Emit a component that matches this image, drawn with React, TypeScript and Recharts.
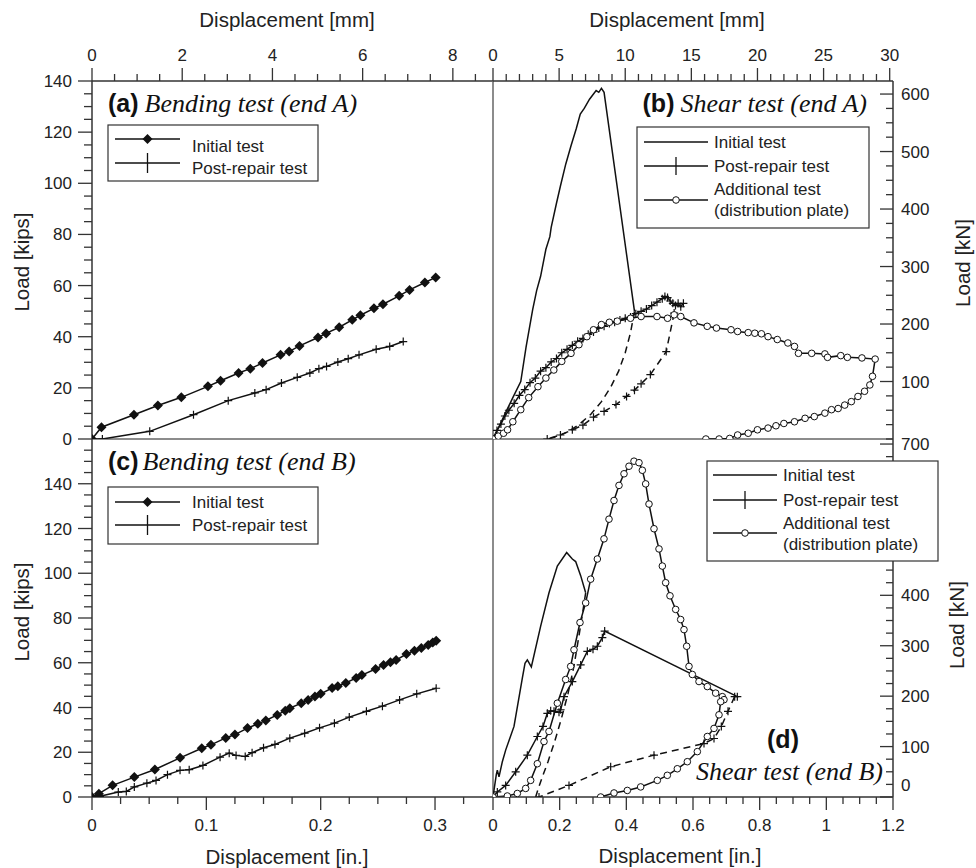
import React from 'react';
import { LineChart, Line, XAxis, YAxis, ReferenceLine } from 'recharts';

const W = 976;
const H = 868;
const SANS = '"Liberation Sans", Arial, Helvetica, sans-serif';
const SERIF = '"Liberation Serif", "Times New Roman", Times, serif';
const INK = '#111';
const AXIS = '#333';
const DIV = '#666';

// ---------- Panel (a): bending test, end A (displacement mm, load kips)
const aInitialMm = [0, 0.21, 0.93, 1.46, 1.98, 2.57, 2.85, 3.25, 3.51, 3.78, 4.18, 4.37, 4.6, 5.01, 5.19, 5.48, 5.77, 5.95, 6.25, 6.45, 6.81, 7.04, 7.38, 7.62];
const aInitialKips = [0, 4.6, 9.5, 13.1, 16.3, 20.6, 22.8, 25.8, 27.5, 29.7, 32.9, 34.2, 36.4, 39.7, 41.3, 43.7, 46.6, 48.4, 51.1, 52.7, 56.0, 58.3, 61.2, 63.2];
const aPostMm = [0, 0.23, 1.28, 2.25, 3.02, 3.61, 3.86, 4.2, 4.55, 4.83, 5.03, 5.2, 5.45, 5.68, 5.92, 6.3, 6.6, 6.9];
const aPostKips = [0, 0, 3.0, 9.5, 15.0, 18.0, 19.3, 21.9, 24.1, 25.8, 27.5, 28.4, 30.1, 31.4, 32.9, 35.1, 36.2, 38.1];

// ---------- Panel (b): shear test, end A (displacement mm, load kN)
const bInitialMm = [0, 0.5, 1.0, 1.5, 2.1, 2.5, 3.0, 3.3, 3.6, 4.0, 4.3, 4.4, 4.8, 5.1, 5.5, 5.9, 6.3, 6.6, 6.9, 7.3, 7.6, 7.8, 8.0, 8.2, 8.4, 10.7];
const bInitialKn = [0, 24, 48, 72, 100, 160, 225, 258, 283, 330, 352, 368, 410, 440, 478, 510, 540, 565, 575, 591, 600, 606, 603, 610, 603, 222];
const bInitialUnloadMm = [10.7, 10.4, 10.0, 9.5, 8.9, 8.2, 7.4, 6.5, 5.6, 4.8, 4.1];
const bInitialUnloadKn = [222, 185, 150, 118, 90, 65, 43, 25, 12, 4, 0];
const bPostMm = [0, 0.3, 0.6, 0.9, 1.2, 1.6, 2.0, 2.4, 2.8, 3.2, 3.6, 4.0, 4.4, 4.8, 5.2, 5.6, 6.0, 6.4, 6.8, 7.2, 7.6, 8.0, 8.4, 8.8, 9.2, 9.6, 10.0, 10.4, 10.8, 11.2, 11.6, 12.0, 12.4, 12.8, 13.0, 13.2, 13.4, 13.6, 13.8, 14.0, 14.2, 14.4];
const bPostKn = [0, 15, 26, 40, 50, 62, 76, 86, 98, 106, 118, 124, 134, 140, 150, 156, 163, 170, 175, 182, 186, 193, 196, 201, 203, 207, 210, 212, 218, 222, 226, 232, 238, 244, 248, 246, 240, 236, 232, 236, 230, 236];
const bPostUnloadMm = [13.7, 13.1, 11.9, 11.2, 10.7, 10.1, 9.3, 8.4, 7.6, 6.8, 6.0, 5.1, 4.1];
const bPostUnloadKn = [219, 152, 112, 96, 85, 74, 60, 48, 38, 24, 16, 7, 0];
const bAddMm = [0, 0.4, 0.8, 1.1, 1.5, 2.1, 2.7, 3.4, 4.0, 4.6, 5.2, 5.9, 6.5, 7.1, 7.6, 8.2, 8.8, 9.4, 10.4, 11.2, 12.4, 13.2, 13.7, 14.2, 15.2, 16.2, 16.9, 18.0, 18.5, 19.3, 19.8, 20.3, 20.8, 21.5, 22.3, 22.8, 23.1, 24.1, 25.1, 25.3, 26.3, 26.8, 27.9, 28.9, 28.7, 28.5, 28.1, 27.6, 27.1, 26.6, 26.1, 25.6, 25.1, 24.3, 23.6, 22.8, 22.0, 21.4, 20.8, 20.0, 19.3, 18.5, 17.9, 17.1, 16.1];
const bAddKn = [0, 5, 10, 16, 30, 51, 72, 91, 106, 120, 135, 149, 164, 178, 190, 199, 203, 205, 210, 213, 213, 210, 216, 213, 202, 196, 193, 190, 187, 185, 184, 183, 178, 173, 167, 161, 149, 149, 148, 142, 145, 142, 141, 139, 109, 94, 83, 74, 65, 59, 53, 51, 45, 39, 36, 30, 27, 23, 19, 16, 10, 7, 1, 0, 0];

// ---------- Panel (c): bending test, end B (displacement in., load kips)
const cInitialIn = [0, 0.006, 0.018, 0.037, 0.055, 0.077, 0.096, 0.104, 0.117, 0.125, 0.136, 0.145, 0.152, 0.162, 0.169, 0.173, 0.183, 0.189, 0.195, 0.2, 0.21, 0.215, 0.222, 0.231, 0.236, 0.248, 0.255, 0.261, 0.266, 0.275, 0.282, 0.288, 0.294, 0.298, 0.301];
const cInitialKips = [0, 1.5, 5.2, 8.9, 12.3, 17.5, 21.8, 23.3, 26.4, 27.9, 30.8, 32.7, 34.2, 36.7, 38.6, 39.7, 41.9, 43.4, 44.9, 46.1, 48.7, 49.5, 51.0, 53.2, 54.5, 57.2, 59.0, 60.2, 61.2, 63.9, 65.4, 66.6, 67.9, 69.1, 69.8];
const cPostIn = [0, 0.007, 0.023, 0.03, 0.037, 0.048, 0.056, 0.066, 0.077, 0.085, 0.097, 0.112, 0.12, 0.126, 0.134, 0.14, 0.15, 0.16, 0.173, 0.186, 0.199, 0.212, 0.225, 0.24, 0.254, 0.269, 0.284, 0.301];
const cPostKips = [0, 0.3, 2.2, 2.5, 4.5, 6.2, 7.4, 10.0, 11.9, 12.2, 14.1, 17.8, 19.6, 18.6, 18.1, 19.8, 22.0, 23.5, 26.3, 28.5, 30.9, 33.0, 35.7, 38.3, 40.6, 43.4, 46.1, 48.6];

// ---------- Panel (d): shear test, end B (displacement in., load kN)
const dInitialIn = [0, 0.01, 0.013, 0.018, 0.028, 0.038, 0.063, 0.088, 0.096, 0.103, 0.115, 0.143, 0.168, 0.193, 0.221, 0.238, 0.248, 0.263, 0.278];
const dInitialKn = [0, 45, 53, 40, 70, 93, 140, 236, 265, 272, 258, 339, 405, 458, 485, 472, 467, 439, 405];
const dInitialUnloadIn = [0.278, 0.27, 0.258, 0.243, 0.225, 0.205, 0.185, 0.165, 0.148, 0.135, 0.128];
const dInitialUnloadKn = [405, 370, 320, 260, 205, 155, 110, 70, 40, 15, 0];
const dPostIn = [0, 0.013, 0.038, 0.068, 0.103, 0.133, 0.15, 0.163, 0.173, 0.183, 0.198, 0.203, 0.213, 0.238, 0.263, 0.283, 0.3, 0.313, 0.328, 0.335, 0.733];
const dPostKn = [0, 10, 23, 50, 83, 120, 140, 166, 171, 170, 168, 173, 199, 229, 262, 289, 293, 299, 316, 329, 199];
const dPostUnloadIn = [0.725, 0.705, 0.685, 0.663, 0.633, 0.483, 0.353, 0.228, 0.138];
const dPostUnloadKn = [199, 170, 140, 116, 106, 83, 60, 23, 0];
const dAddIn = [0, 0.043, 0.073, 0.098, 0.113, 0.133, 0.153, 0.168, 0.193, 0.218, 0.233, 0.243, 0.261, 0.278, 0.293, 0.313, 0.333, 0.348, 0.363, 0.378, 0.393, 0.408, 0.423, 0.438, 0.448, 0.458, 0.468, 0.483, 0.498, 0.508, 0.518, 0.531, 0.548, 0.563, 0.573, 0.581, 0.588, 0.598, 0.618, 0.643, 0.668, 0.688, 0.693, 0.683, 0.678, 0.663, 0.643, 0.613, 0.583, 0.553, 0.523, 0.493, 0.443, 0.403, 0.363, 0.323];
const dAddKn = [0, 2, 7, 17, 33, 66, 110, 130, 186, 233, 259, 292, 346, 385, 432, 472, 512, 551, 588, 618, 641, 656, 666, 663, 648, 621, 581, 532, 492, 458, 425, 399, 372, 352, 332, 299, 259, 243, 229, 219, 206, 199, 193, 189, 163, 136, 120, 90, 70, 56, 43, 33, 20, 13, 8, 0];

// ---------- Tick label values (labels hidden behind the legend in (d) are omitted)
const aTopLabels = [0, 2, 4, 6, 8];
const aLeftLabels = [0, 20, 40, 60, 80, 100, 120, 140];
const bTopLabels = [0, 5, 10, 15, 20, 25, 30];
const bRightLabels = [100, 200, 300, 400, 500, 600];
const cLeftLabels = [0, 20, 40, 60, 80, 100, 120, 140];
const cBottomLabels = [0, 0.1, 0.2, 0.3];
const dRightLabels = [0, 100, 200, 300, 400, 700];
const dBottomLabels = [0, 0.2, 0.4, 0.6, 0.8, 1, 1.2];

const pts = (xs: number[], ys: number[]) => xs.map((x, i) => ({ x, y: ys[i] }));

function minorTicks(max: number, step: number): number[] {
  const out: number[] = [];
  const n = Math.round(max / step);
  for (let i = 0; i <= n; i++) out.push(Math.round(i * step * 10000) / 10000);
  return out;
}

type Orient = 'top' | 'bottom' | 'left' | 'right';
function makeTick(orient: Orient, majors: number[], shift: { [k: string]: number } = {}) {
  return (p: any) => {
    const v = Number(p.payload?.value);
    const x = p.x;
    const y = p.y;
    const major = majors.some((m) => Math.abs(m - v) < 1e-6);
    const len = major ? 13 : 7;
    let x2 = x, y2 = y, tx = x, ty = y;
    let anchor: 'start' | 'middle' | 'end' = 'middle';
    if (orient === 'top') { y2 = y - len; ty = y - 20; }
    else if (orient === 'bottom') { y2 = y + len; ty = y + 34; }
    else if (orient === 'left') { x2 = x - len - 1; tx = x - 20; ty = y + 6; anchor = 'end'; }
    else { x2 = x - len; tx = x + 8; ty = y + 6; anchor = 'start'; }
    const dy = shift[String(v)] ?? 0;
    return (
      <g>
        <line x1={x} y1={y} x2={x2} y2={y2} stroke={AXIS} strokeWidth={1.3} />
        {major && (
          <text x={tx} y={ty + dy} textAnchor={anchor} fontFamily={SANS} fontSize={17} fill="#222">
            {String(v)}
          </text>
        )}
      </g>
    );
  };
}

const diamondDot = (p: any) => {
  const k = `dm-${p.index}`;
  if (p.cx == null || p.cy == null) return <g key={k} />;
  const { cx, cy } = p;
  return <path key={k} d={`M${cx},${cy - 5}L${cx + 5},${cy}L${cx},${cy + 5}L${cx - 5},${cy}Z`} fill={INK} />;
};
const plusDot = (p: any) => {
  const k = `pl-${p.index}`;
  if (p.cx == null || p.cy == null) return <g key={k} />;
  const { cx, cy } = p;
  return <path key={k} d={`M${cx - 4},${cy}H${cx + 4}M${cx},${cy - 4}V${cy + 4}`} stroke={INK} strokeWidth={1.2} fill="none" />;
};
const circleDot = (p: any) => {
  const k = `ci-${p.index}`;
  if (p.cx == null || p.cy == null) return <g key={k} />;
  return <circle key={k} cx={p.cx} cy={p.cy} r={3.3} fill="#fff" stroke={INK} strokeWidth={1} />;
};

const axisLine = { stroke: AXIS, strokeWidth: 1.5 };
const abs: React.CSSProperties = { position: 'absolute', left: 0, top: 0 };

const lineProps = {
  type: 'linear' as const,
  dataKey: 'y',
  stroke: INK,
  strokeWidth: 1.5,
  activeDot: false,
  isAnimationActive: false,
};

type Row = { ly: number; marker: 'diamond' | 'cross' | 'circle' | 'none'; texts: [string, number][] };
function LegendBox(props: { x: number; y: number; w: number; h: number; lx1: number; lx2: number; tx: number; cross: number; rows: Row[] }) {
  const { x, y, w, h, lx1, lx2, tx, cross, rows } = props;
  const mx = (lx1 + lx2) / 2;
  return (
    <g>
      <rect x={x} y={y} width={w} height={h} fill="#fff" stroke={AXIS} strokeWidth={1.2} />
      {rows.map((r, i) => (
        <g key={i}>
          <line x1={lx1} y1={r.ly} x2={lx2} y2={r.ly} stroke={INK} strokeWidth={1.6} />
          {r.marker === 'diamond' && <path d={`M${mx},${r.ly - 5}L${mx + 5},${r.ly}L${mx},${r.ly + 5}L${mx - 5},${r.ly}Z`} fill={INK} />}
          {r.marker === 'cross' && <line x1={mx} y1={r.ly - cross} x2={mx} y2={r.ly + cross} stroke={INK} strokeWidth={1.3} />}
          {r.marker === 'circle' && <circle cx={mx} cy={r.ly} r={3.3} fill="#fff" stroke={INK} strokeWidth={1} />}
          {r.texts.map(([t, ty], j) => (
            <text key={j} x={tx} y={ty} fontFamily={SANS} fontSize={17} fill="#222">{t}</text>
          ))}
        </g>
      ))}
    </g>
  );
}

export default function App() {
  return (
    <div style={{ position: 'absolute', left: 0, top: 0, width: W, height: H, background: '#fff' }}>
      {/* (a) */}
      <div style={abs}>
        <LineChart width={W} height={H} margin={{ top: 0, right: W - 493, bottom: H - 439, left: 0 }}>
          <XAxis orientation="top" type="number" dataKey="x" domain={[0, 8.89]} allowDataOverflow ticks={minorTicks(8.5, 0.5)} interval={0} height={81} tickSize={0} tickMargin={0} tickLine={false} axisLine={axisLine} tick={makeTick('top', aTopLabels)} />
          <YAxis type="number" domain={[0, 140]} allowDataOverflow ticks={minorTicks(140, 5)} interval={0} width={92} tickSize={0} tickMargin={0} tickLine={false} axisLine={axisLine} tick={makeTick('left', aLeftLabels)} />
          <ReferenceLine y={0} stroke={DIV} strokeWidth={1.5} />
          <Line {...lineProps} data={pts(aInitialMm, aInitialKips)} dot={diamondDot} />
          <Line {...lineProps} data={pts(aPostMm, aPostKips)} dot={plusDot} />
        </LineChart>
      </div>
      {/* (b) */}
      <div style={abs}>
        <LineChart width={W} height={H} margin={{ top: 0, right: 0, bottom: H - 439, left: 493 }}>
          <XAxis orientation="top" type="number" dataKey="x" domain={[0, 30.25]} allowDataOverflow ticks={minorTicks(30, 1)} interval={0} height={81} tickSize={0} tickMargin={0} tickLine={false} axisLine={axisLine} tick={makeTick('top', bTopLabels)} />
          <YAxis orientation="right" type="number" domain={[0, 622.7]} allowDataOverflow ticks={minorTicks(600, 25)} interval={0} width={83} tickSize={0} tickMargin={0} tickLine={false} axisLine={axisLine} tick={makeTick('right', bRightLabels)} />
          <ReferenceLine y={0} stroke={DIV} strokeWidth={1.5} />
          <ReferenceLine x={0} stroke={DIV} strokeWidth={1.5} />
          <Line {...lineProps} data={pts(bInitialMm, bInitialKn)} dot={false} />
          <Line {...lineProps} data={pts(bInitialUnloadMm, bInitialUnloadKn)} dot={false} strokeDasharray="7 5" />
          <Line {...lineProps} data={pts(bPostMm, bPostKn)} dot={plusDot} />
          <Line {...lineProps} data={pts(bPostUnloadMm, bPostUnloadKn)} dot={plusDot} strokeDasharray="7 5" />
          <Line {...lineProps} data={pts(bAddMm, bAddKn)} dot={circleDot} />
        </LineChart>
      </div>
      {/* (c) */}
      <div style={abs}>
        <LineChart width={W} height={H} margin={{ top: 439, right: W - 493, bottom: 0, left: 0 }}>
          <XAxis orientation="bottom" type="number" dataKey="x" domain={[0, 0.3507]} allowDataOverflow ticks={minorTicks(0.325, 0.025)} interval={0} height={H - 797} tickSize={0} tickMargin={0} tickLine={false} axisLine={axisLine} tick={makeTick('bottom', cBottomLabels)} />
          <YAxis type="number" domain={[0, 160]} allowDataOverflow ticks={minorTicks(155, 5)} interval={0} width={92} tickSize={0} tickMargin={0} tickLine={false} axisLine={axisLine} tick={makeTick('left', cLeftLabels)} />
          <Line {...lineProps} data={pts(cInitialIn, cInitialKips)} dot={diamondDot} />
          <Line {...lineProps} data={pts(cPostIn, cPostKips)} dot={plusDot} />
        </LineChart>
      </div>
      {/* (d) */}
      <div style={abs}>
        <LineChart width={W} height={H} margin={{ top: 439, right: 0, bottom: 0, left: 493 }}>
          <XAxis orientation="bottom" type="number" dataKey="x" domain={[0, 1.2]} allowDataOverflow ticks={minorTicks(1.2, 0.05)} interval={0} height={H - 797} tickSize={0} tickMargin={0} tickLine={false} axisLine={axisLine} tick={makeTick('bottom', dBottomLabels)} />
          <YAxis orientation="right" type="number" domain={[0, 710]} allowDataOverflow ticks={minorTicks(700, 25)} interval={0} width={83} tickSize={0} tickMargin={0} tickLine={false} axisLine={axisLine} tick={makeTick('right', dRightLabels, { '0': -12 })} />
          <ReferenceLine x={0} stroke={DIV} strokeWidth={1.5} />
          <Line {...lineProps} data={pts(dInitialIn, dInitialKn)} dot={false} />
          <Line {...lineProps} data={pts(dInitialUnloadIn, dInitialUnloadKn)} dot={false} strokeDasharray="7 5" />
          <Line {...lineProps} data={pts(dPostIn, dPostKn)} dot={plusDot} />
          <Line {...lineProps} data={pts(dPostUnloadIn, dPostUnloadKn)} dot={plusDot} strokeDasharray="7 5" />
          <Line {...lineProps} data={pts(dAddIn, dAddKn)} dot={circleDot} />
        </LineChart>
      </div>
      {/* titles and legends */}
      <svg width={W} height={H} style={{ ...abs, pointerEvents: 'none' }}>
        <g fontFamily={SANS} fontSize={20.5} fill="#222" textAnchor="middle">
          <text x={287} y={27}>Displacement [mm]</text>
          <text x={677} y={27}>Displacement [mm]</text>
          <text x={287} y={864}>Displacement [in.]</text>
          <text x={680} y={863}>Displacement [in.]</text>
          <text transform="translate(29,262) rotate(-90)">Load [kips]</text>
          <text transform="translate(29,612) rotate(-90)">Load [kips]</text>
          <text transform="translate(970,263) rotate(-90)">Load [kN]</text>
          <text transform="translate(964,625) rotate(-90)">Load [kN]</text>
        </g>
        <text x={108} y={112} fill="#111">
          <tspan fontFamily={SANS} fontWeight="bold" fontSize={25}>(a)</tspan>
          <tspan dx={6} fontFamily={SERIF} fontStyle="italic" fontSize={26}>Bending test (end A)</tspan>
        </text>
        <text x={867} y={112} fill="#111" textAnchor="end">
          <tspan fontFamily={SANS} fontWeight="bold" fontSize={25}>(b)</tspan>
          <tspan dx={6} fontFamily={SERIF} fontStyle="italic" fontSize={26}>Shear test (end A)</tspan>
        </text>
        <text x={108} y={470} fill="#111">
          <tspan fontFamily={SANS} fontWeight="bold" fontSize={25}>(c)</tspan>
          <tspan dx={4} fontFamily={SERIF} fontStyle="italic" fontSize={26}>Bending test (end B)</tspan>
        </text>
        <text x={783} y={748} fill="#111" textAnchor="middle" fontFamily={SANS} fontWeight="bold" fontSize={25}>(d)</text>
        <text x={883} y={780} fill="#111" textAnchor="end" fontFamily={SERIF} fontStyle="italic" fontSize={26}>Shear test (end B)</text>

        <LegendBox x={108} y={125} w={210} h={56} lx1={115} lx2={180} tx={192} cross={10}
          rows={[
            { ly: 139, marker: 'diamond', texts: [['Initial test', 152]] },
            { ly: 163, marker: 'cross', texts: [['Post-repair test', 174]] },
          ]} />
        <LegendBox x={108} y={487} w={210} h={57} lx1={115} lx2={180} tx={192} cross={10}
          rows={[
            { ly: 502, marker: 'diamond', texts: [['Initial test', 508]] },
            { ly: 525, marker: 'cross', texts: [['Post-repair test', 531]] },
          ]} />
        <LegendBox x={637} y={127} w={232} h={101} lx1={644} lx2={708} tx={714} cross={9}
          rows={[
            { ly: 142, marker: 'none', texts: [['Initial test', 148]] },
            { ly: 166, marker: 'cross', texts: [['Post-repair test', 172]] },
            { ly: 200, marker: 'circle', texts: [['Additional test', 195], ['(distribution plate)', 216]] },
          ]} />
        <LegendBox x={707} y={461} w={231} h={100} lx1={713} lx2={777} tx={783} cross={9}
          rows={[
            { ly: 475, marker: 'none', texts: [['Initial test', 481]] },
            { ly: 500, marker: 'cross', texts: [['Post-repair test', 506]] },
            { ly: 533, marker: 'circle', texts: [['Additional test', 529], ['(distribution plate)', 550]] },
          ]} />
      </svg>
    </div>
  );
}
